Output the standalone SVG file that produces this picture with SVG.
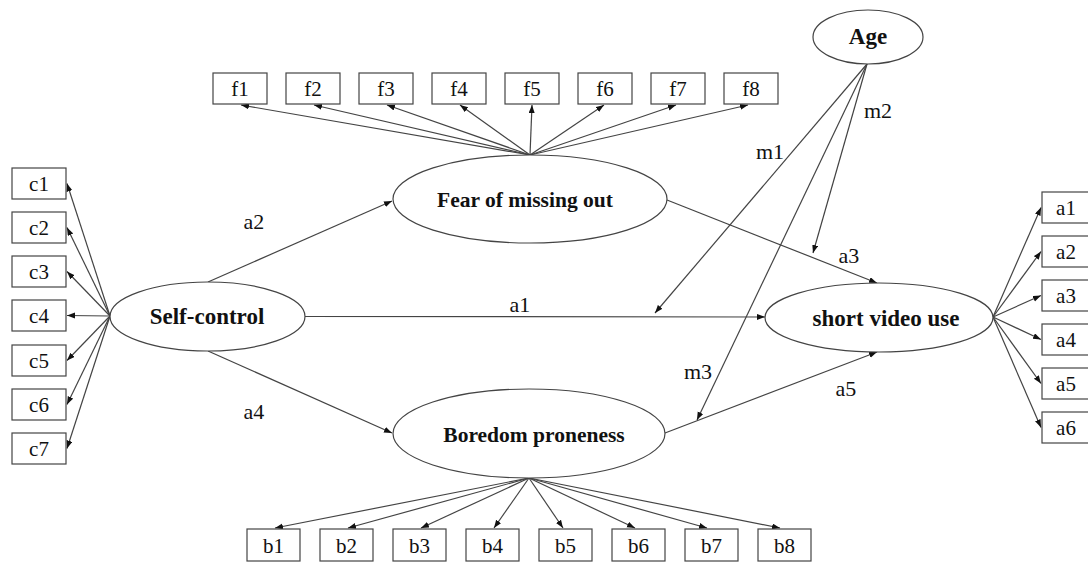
<svg xmlns="http://www.w3.org/2000/svg" width="1088" height="562" viewBox="0 0 1088 562">
<style>
.bg{fill:#ffffff}
.box{fill:#ffffff;stroke:#444;stroke-width:1.2}
.ell{fill:#ffffff;stroke:#444;stroke-width:1.2}
.bl{font-family:"Liberation Serif","Times New Roman",serif;font-size:21px;fill:#111;text-anchor:middle}
.lat{font-family:"Liberation Serif","Times New Roman",serif;font-weight:bold;fill:#111;text-anchor:middle}
.pl{font-family:"Liberation Serif","Times New Roman",serif;font-size:22px;fill:#111;text-anchor:middle}
.cn line{stroke:#444;stroke-width:1.2;marker-end:url(#ah)}
</style>
<defs>
<marker id="ah" markerUnits="userSpaceOnUse" markerWidth="9" markerHeight="7" refX="8" refY="3" orient="auto">
<path d="M0,0 L8,3 L0,6 z" fill="#111"/>
</marker>
</defs>
<rect class="bg" x="0" y="0" width="1088" height="562"/>

<g id="connectors" class="cn">
<line x1="110" y1="316" x2="67" y2="183.5"/>
<line x1="110" y1="316" x2="67" y2="227.5"/>
<line x1="110" y1="316" x2="67" y2="271.5"/>
<line x1="110" y1="316" x2="67" y2="315.5"/>
<line x1="110" y1="316" x2="67" y2="360.5"/>
<line x1="110" y1="316" x2="67" y2="404.5"/>
<line x1="110" y1="316" x2="67" y2="448.5"/>
<line x1="530" y1="155" x2="241" y2="105"/>
<line x1="530" y1="155" x2="314" y2="105"/>
<line x1="530" y1="155" x2="387" y2="105"/>
<line x1="530" y1="155" x2="460" y2="105"/>
<line x1="530" y1="155" x2="532" y2="105"/>
<line x1="530" y1="155" x2="604" y2="105"/>
<line x1="530" y1="155" x2="676" y2="105"/>
<line x1="530" y1="155" x2="748" y2="105"/>
<line x1="529" y1="478" x2="275" y2="528"/>
<line x1="529" y1="478" x2="348" y2="528"/>
<line x1="529" y1="478" x2="421" y2="528"/>
<line x1="529" y1="478" x2="494" y2="528"/>
<line x1="529" y1="478" x2="563" y2="528"/>
<line x1="529" y1="478" x2="635" y2="528"/>
<line x1="529" y1="478" x2="707" y2="528"/>
<line x1="529" y1="478" x2="780" y2="528"/>
<line x1="993" y1="317" x2="1041" y2="207.5"/>
<line x1="993" y1="317" x2="1041" y2="251.5"/>
<line x1="993" y1="317" x2="1041" y2="295.5"/>
<line x1="993" y1="317" x2="1041" y2="339.5"/>
<line x1="993" y1="317" x2="1041" y2="383.5"/>
<line x1="993" y1="317" x2="1041" y2="427.5"/>
<line x1="208" y1="282" x2="392" y2="201"/>
<line x1="208" y1="351" x2="392" y2="433"/>
<line x1="305" y1="316.5" x2="765" y2="317"/>
<line x1="667" y1="200" x2="877" y2="283"/>
<line x1="665" y1="433" x2="877" y2="352"/>
<line x1="867" y1="64" x2="655" y2="313"/>
<line x1="867" y1="64" x2="813" y2="253"/>
<line x1="867" y1="64" x2="697" y2="420"/>
</g>

<g id="path-labels">
<text class="pl" x="254" y="229">a2</text>
<text class="pl" x="254" y="419">a4</text>
<text class="pl" x="520" y="312">a1</text>
<text class="pl" x="849" y="263">a3</text>
<text class="pl" x="846" y="396">a5</text>
<text class="pl" x="770" y="159">m1</text>
<text class="pl" x="878" y="118">m2</text>
<text class="pl" x="698" y="379">m3</text>
</g>

<g id="self-control">
<ellipse class="ell" cx="207.5" cy="316.5" rx="97.5" ry="34.5"/>
<text class="lat" x="207" y="324" font-size="23">Self-control</text>
</g>
<g id="fomo">
<ellipse class="ell" cx="530" cy="199" rx="137" ry="44"/>
<text class="lat" x="525" y="207" font-size="21.5">Fear of missing out</text>
</g>
<g id="boredom">
<ellipse class="ell" cx="529" cy="433.5" rx="136" ry="44.5"/>
<text class="lat" x="534" y="442" font-size="21.5">Boredom proneness</text>
</g>
<g id="short-video-use">
<ellipse class="ell" cx="879" cy="317.5" rx="114" ry="34.5"/>
<text class="lat" x="886" y="326" font-size="23">short video use</text>
</g>
<g id="age">
<ellipse class="ell" cx="868" cy="37" rx="55" ry="27"/>
<text class="lat" x="868" y="44" font-size="23">Age</text>
</g>

<g id="c1"><rect class="box" x="12" y="168" width="54" height="31"/><text class="bl" x="39" y="191">c1</text></g>
<g id="c2"><rect class="box" x="12" y="212" width="54" height="31"/><text class="bl" x="39" y="235">c2</text></g>
<g id="c3"><rect class="box" x="12" y="256" width="54" height="31"/><text class="bl" x="39" y="279">c3</text></g>
<g id="c4"><rect class="box" x="12" y="300" width="54" height="31"/><text class="bl" x="39" y="323">c4</text></g>
<g id="c5"><rect class="box" x="12" y="345" width="54" height="31"/><text class="bl" x="39" y="368">c5</text></g>
<g id="c6"><rect class="box" x="12" y="389" width="54" height="31"/><text class="bl" x="39" y="412">c6</text></g>
<g id="c7"><rect class="box" x="12" y="433" width="54" height="31"/><text class="bl" x="39" y="456">c7</text></g>

<g id="f1"><rect class="box" x="213" y="73" width="54" height="31"/><text class="bl" x="240" y="96">f1</text></g>
<g id="f2"><rect class="box" x="286" y="73" width="54" height="31"/><text class="bl" x="313" y="96">f2</text></g>
<g id="f3"><rect class="box" x="359" y="73" width="54" height="31"/><text class="bl" x="386" y="96">f3</text></g>
<g id="f4"><rect class="box" x="432" y="73" width="54" height="31"/><text class="bl" x="459" y="96">f4</text></g>
<g id="f5"><rect class="box" x="505" y="73" width="54" height="31"/><text class="bl" x="532" y="96">f5</text></g>
<g id="f6"><rect class="box" x="578" y="73" width="54" height="31"/><text class="bl" x="605" y="96">f6</text></g>
<g id="f7"><rect class="box" x="651" y="73" width="54" height="31"/><text class="bl" x="678" y="96">f7</text></g>
<g id="f8"><rect class="box" x="724" y="73" width="54" height="31"/><text class="bl" x="751" y="96">f8</text></g>

<g id="b1"><rect class="box" x="247" y="529" width="53" height="32"/><text class="bl" x="273.5" y="553">b1</text></g>
<g id="b2"><rect class="box" x="320" y="529" width="53" height="32"/><text class="bl" x="346.5" y="553">b2</text></g>
<g id="b3"><rect class="box" x="393" y="529" width="53" height="32"/><text class="bl" x="419.5" y="553">b3</text></g>
<g id="b4"><rect class="box" x="466" y="529" width="53" height="32"/><text class="bl" x="492.5" y="553">b4</text></g>
<g id="b5"><rect class="box" x="539" y="529" width="53" height="32"/><text class="bl" x="565.5" y="553">b5</text></g>
<g id="b6"><rect class="box" x="612" y="529" width="53" height="32"/><text class="bl" x="638.5" y="553">b6</text></g>
<g id="b7"><rect class="box" x="685" y="529" width="53" height="32"/><text class="bl" x="711.5" y="553">b7</text></g>
<g id="b8"><rect class="box" x="758" y="529" width="53" height="32"/><text class="bl" x="784.5" y="553">b8</text></g>

<g id="a1"><rect class="box" x="1042" y="192" width="54" height="31"/><text class="bl" x="1066" y="215">a1</text></g>
<g id="a2"><rect class="box" x="1042" y="236" width="54" height="31"/><text class="bl" x="1066" y="259">a2</text></g>
<g id="a3"><rect class="box" x="1042" y="280" width="54" height="31"/><text class="bl" x="1066" y="303">a3</text></g>
<g id="a4"><rect class="box" x="1042" y="324" width="54" height="31"/><text class="bl" x="1066" y="347">a4</text></g>
<g id="a5"><rect class="box" x="1042" y="368" width="54" height="31"/><text class="bl" x="1066" y="391">a5</text></g>
<g id="a6"><rect class="box" x="1042" y="412" width="54" height="31"/><text class="bl" x="1066" y="435">a6</text></g>
</svg>
